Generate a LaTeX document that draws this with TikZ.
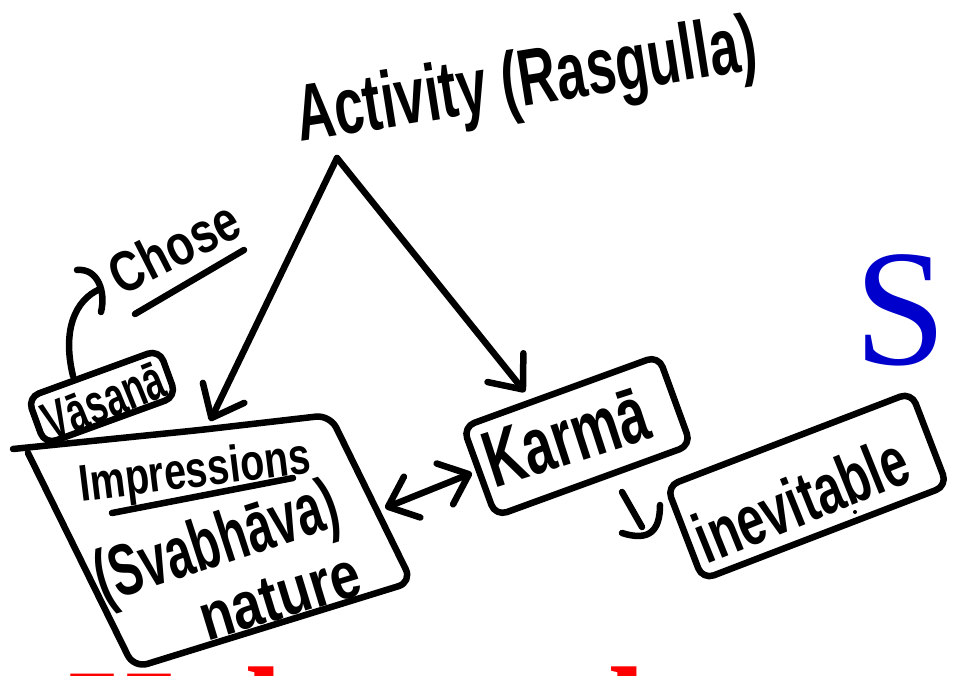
\documentclass[tikz,border=0pt]{standalone}
\usepackage{graphicx}
\usepackage{fontspec}
\setmainfont{Liberation Serif}
\newfontfamily\handfont{Liberation Sans}
\usetikzlibrary{arrows.meta}
\definecolor{sblue}{RGB}{0,0,204}
\definecolor{sred}{RGB}{255,0,0}
\begin{document}
\begin{tikzpicture}[x=1pt,y=-1pt,line width=6.5pt,line cap=round,line join=round,
  hand/.style={font=\handfont\bfseries,inner sep=0pt},
  sketchbox/.style={draw,rounded corners=12pt,line width=6.5pt,inner sep=0pt},
  barb/.style={-{Straight Barb[length=28pt,width=46pt,round]}},
  dbarb/.style={{Straight Barb[length=26pt,width=44pt,round]}-{Straight Barb[length=26pt,width=44pt,round]}},
  redtext/.style={anchor=base west,inner sep=0pt,text=sred,font=\bfseries\fontsize{135}{135}\selectfont}]
\useasboundingbox (0,0) rectangle (955,676);

% title
\node[hand,rotate=9] (act) at (527,85) {\resizebox*{465pt}{75pt}{Activity (Rasgulla)}};

% Chose
\node[hand,rotate=27] (chose) at (174,247) {\resizebox*{138pt}{42pt}{Chose}};
\draw (135,314) -- (244,250);

% Vasana box
\node[sketchbox,minimum width=140pt,minimum height=50pt,rotate=20] (vasbox) at (102,397) {};
\node[hand,rotate=22] (vas) at (104,401) {\resizebox*{126pt}{39pt}{Vāsanā}};
\coordinate (vastop) at (73,376);
\coordinate (chosein) at (100,289);
\draw (vastop) .. controls (62,330) and (75,300) .. (chosein);
\draw (77,270) .. controls (98,268) and (106,292) .. (101,312);

% Impressions box
\draw[rounded corners=14pt] (13,449) -- (200,430) -- (330,415) -- (412,582) -- (134,668) -- (28,453);
\coordinate (impT) at (210,421);
\coordinate (impR) at (385,508);
\node[hand,rotate=7] (imp) at (195,474) {\resizebox*{232pt}{48pt}{Impressions}};
\draw (112,513) -- (293,478);
\node[hand,rotate=18] (svab) at (218,546) {\resizebox*{252pt}{68pt}{(Svabhāva)}};
\node[hand,rotate=17] (nat) at (280,597) {\resizebox*{165pt}{44pt}{nature}};

% Karma box
\node[sketchbox,minimum width=208pt,minimum height=95pt,rotate=20] (karbox) at (577,436) {};
\node[hand,rotate=18] (kar) at (566,437) {\resizebox*{168pt}{56pt}{Karmā}};
\coordinate (karT) at (525,392);
\coordinate (karL) at (472,473);

% inevitable box
\node[sketchbox,minimum width=262pt,minimum height=100pt,rotate=21] (inevbox) at (807,486) {};
\node[hand,rotate=22] (inev) at (801,499) {\resizebox*{224pt}{52pt}{inevitable}};
\fill (855,512) circle (2pt);

% apex and arrows
\coordinate (apex) at (337,158);
\draw[barb] (apex) -- (impT);
\draw[barb] (apex) -- (karT);
\draw[dbarb] (impR) -- (karL);

% hook symbol between Karma and inevitable
\draw (622,492) -- (642,527);
\draw (660,505) .. controls (660,530) and (650,542) .. (622,533);

% blue S
\node[anchor=base,inner sep=0pt,text=sblue,font=\fontsize{166}{166}\selectfont] (bigS) at (901,364) {S};

% red cut-off text at the bottom
\node[redtext] (redH) at (65,762) {H};
\node[redtext] (redl) at (242,760) {l};
\node[redtext] (redd) at (605,760) {l};
\end{tikzpicture}
\end{document}
